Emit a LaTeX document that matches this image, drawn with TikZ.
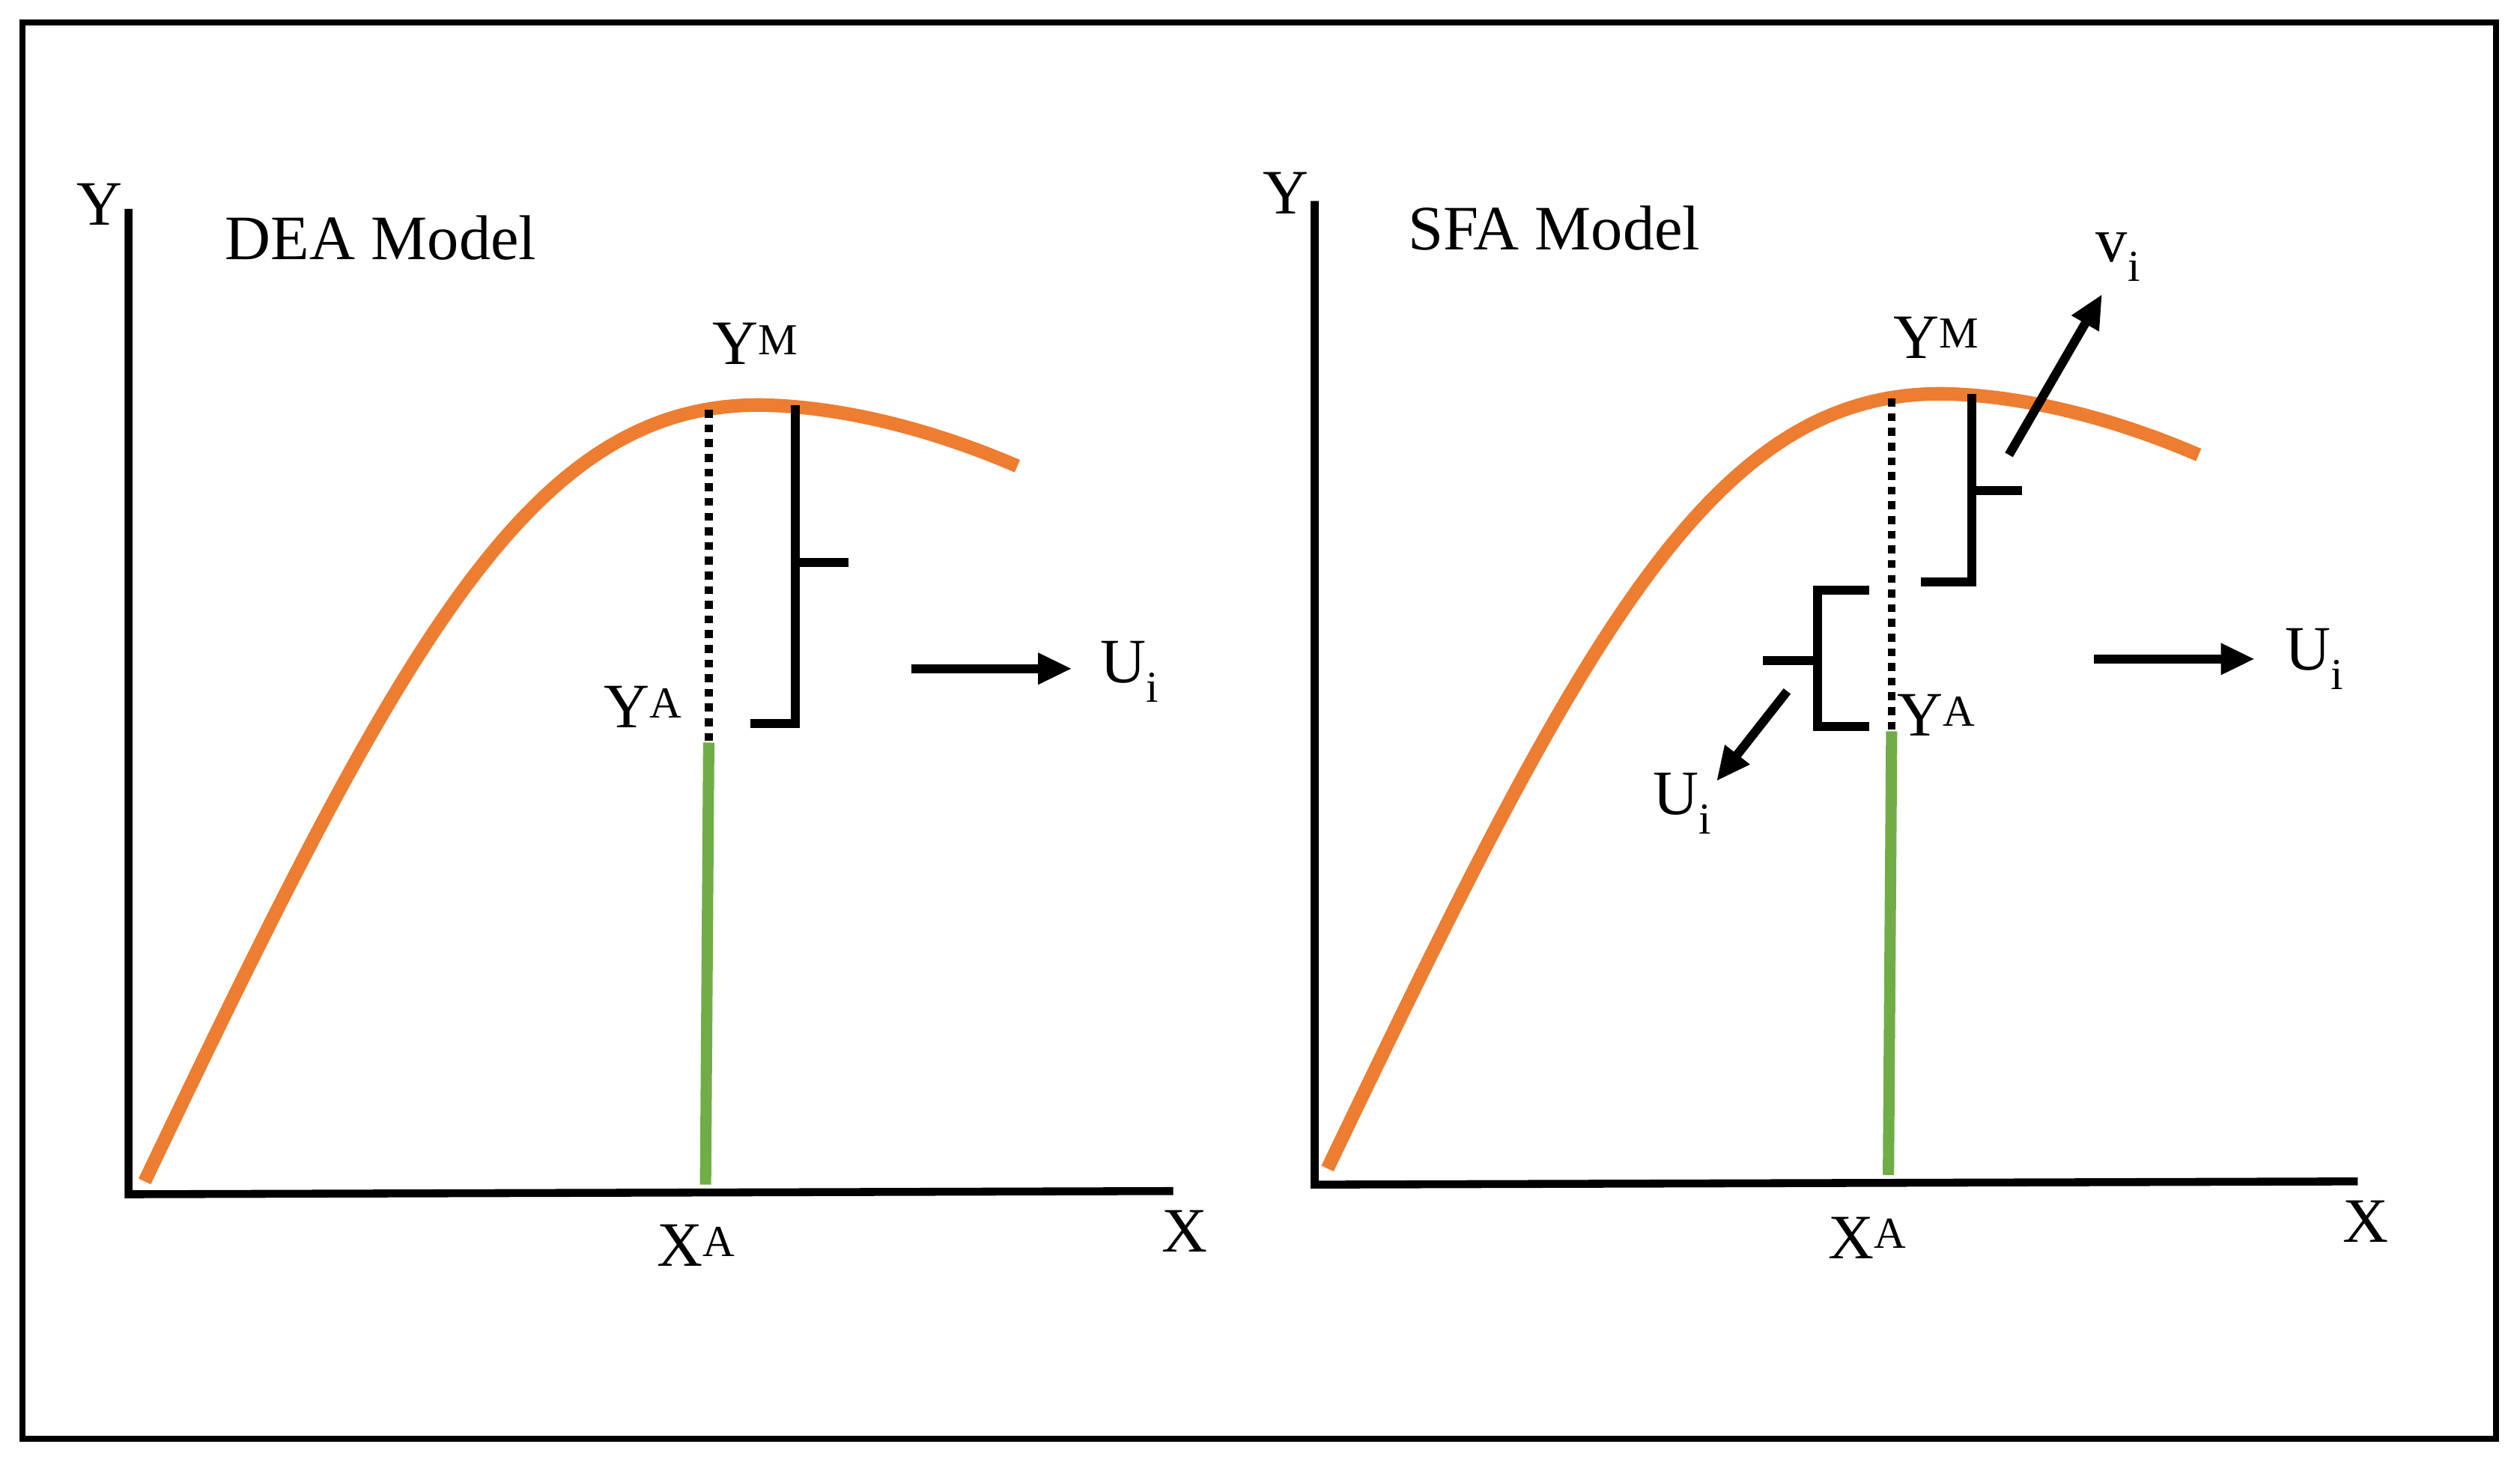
\documentclass[tikz,border=0pt]{standalone}
\usepackage{fontspec}
\setmainfont{Liberation Serif}
\usetikzlibrary{arrows.meta}
\begin{document}
\begin{tikzpicture}[x=0.05cm,y=-0.05cm,
  lbl/.style={font=\fontsize{56}{64}\selectfont, inner sep=0pt},
  ttl/.style={font=\fontsize{56}{64}\selectfont, inner sep=0pt},
  ax/.style={line width=7pt, black},
  curve/.style={line width=12pt, color={rgb,255:red,237;green,125;blue,49}},
  green/.style={line width=10pt, color={rgb,255:red,112;green,173;blue,71}},
  dots/.style={line width=7pt, dash pattern=on 7pt off 6pt},
  br/.style={line width=8pt},
  arr/.style={line width=8pt, -{Triangle[length=30pt,width=26pt]}}]
\useasboundingbox (0,0) rectangle (1568,911);
\draw[line width=5pt] (14,14) rectangle (1553,895);
% left panel
\coordinate (ly) at (80,130); \coordinate (lo) at (80,743); \coordinate (lx) at (730,741);
\draw[ax] (ly) -- (lo) -- (lx);
\node[lbl] (lY) at (62,127) {Y};
\node[lbl] (lX) at (737,766) {X};
\node[ttl] (dea) at (237,148) {DEA Model};
\draw[curve] (90,735) .. controls (250,400) and (330,250) .. (475,252) .. controls (520,253) and (575,265) .. (633,290);
\coordinate (lm) at (441,255); \coordinate (la) at (441,462); \coordinate (lb) at (439,737);
\draw[dots] (lm) -- (la);
\draw[green] (la) -- (lb);
\draw[br] (495,252) -- (495,450) -- (467,450);
\draw[br] (495,350) -- (528,350);
\node[lbl] (lYM) at (470,214) {Y\textsuperscript{M}};
\node[lbl] (lYA) at (400,440) {Y\textsuperscript{A}};
\coordinate (la1) at (567,416); \coordinate (la2) at (667,416);
\draw[arr] (la1) -- (la2);
\node[lbl] (lU) at (703,418) {U\textsubscript{i}};
\node[lbl] (lXA) at (433,775) {X\textsuperscript{A}};
% right panel
\coordinate (ry) at (818,125); \coordinate (ro) at (818,737); \coordinate (rx) at (1467,735);
\draw[ax] (ry) -- (ro) -- (rx);
\node[lbl] (rY) at (800,120) {Y};
\node[lbl] (rX) at (1472,760) {X};
\node[ttl] (sfa) at (967,142) {SFA Model};
\draw[curve] (826,727) .. controls (985,395) and (1065,243) .. (1210,245) .. controls (1255,246) and (1310,258) .. (1368,283);
\coordinate (rm) at (1177,248); \coordinate (ra) at (1177,455); \coordinate (rb) at (1175,731);
\draw[dots] (rm) -- (ra);
\draw[green] (ra) -- (rb);
\draw[br] (1227,245) -- (1227,362) -- (1195,362);
\draw[br] (1227,305) -- (1258,305);
\draw[br] (1163,367) -- (1131,367) -- (1131,452) -- (1163,452);
\draw[br] (1097,411) -- (1131,411);
\coordinate (rv1) at (1250,283); \coordinate (rv2) at (1308,183);
\draw[arr] (rv1) -- (rv2);
\node[lbl] (rv) at (1318,160) {v\textsubscript{i}};
\coordinate (ru1) at (1112,430); \coordinate (ru2) at (1068,486);
\draw[arr] (ru1) -- (ru2);
\node[lbl] (rU1) at (1047,500) {U\textsubscript{i}};
\node[lbl] (rYM) at (1205,210) {Y\textsuperscript{M}};
\node[lbl] (rYA) at (1205,445) {Y\textsuperscript{A}};
\coordinate (rr1) at (1303,410); \coordinate (rr2) at (1403,410);
\draw[arr] (rr1) -- (rr2);
\node[lbl] (rU2) at (1440,410) {U\textsubscript{i}};
\node[lbl] (rXA) at (1162,770) {X\textsuperscript{A}};
\end{tikzpicture}
\end{document}
